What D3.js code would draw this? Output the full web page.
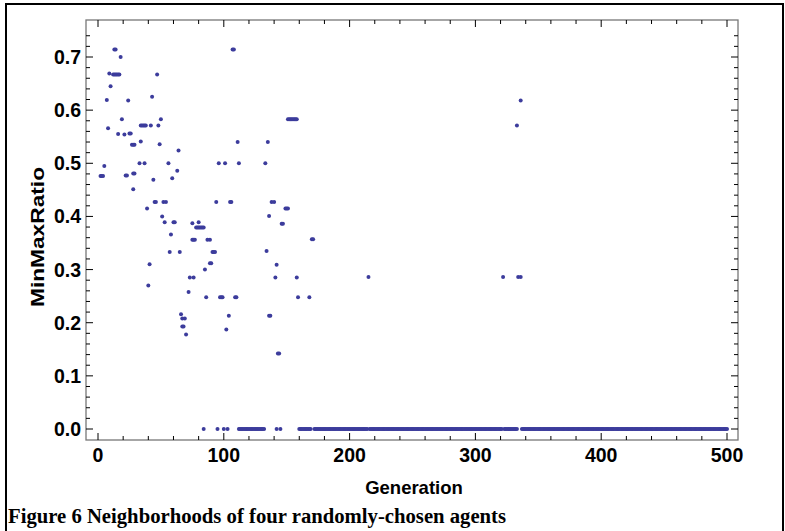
<!DOCTYPE html>
<html>
<head>
<meta charset="utf-8">
<script src="https://cdn.jsdelivr.net/npm/d3@7"></script>
<style>
  html, body { margin: 0; padding: 0; background: #fff; }
  svg { display: block; }
  .tick-label { font-family: "Liberation Sans", Arial, sans-serif; font-weight: bold; font-size: 19.5px; fill: #000; }
  .axis-title { font-family: "Liberation Sans", Arial, sans-serif; font-weight: bold; font-size: 18.5px; fill: #000; }
  .caption { font-family: "Liberation Serif", "Times New Roman", serif; font-weight: bold; font-size: 20.7px; fill: #000; }
</style>
</head>
<body>
<svg id="chart" width="785" height="531"></svg>
<script>
// ---- Data ----
// Non-zero MinMaxRatio observations: generation and value
const generations = [
  2, 3, 4, 5, 7, 8, 9, 10, 12, 13, 14, 15, 16, 17, 13, 14, 16, 18, 19, 21,
  22, 23, 24, 25, 26, 27, 28, 29, 28, 29, 28, 33, 37, 34, 35, 36, 37, 38, 34, 39,
  40, 41, 42, 43, 44, 45, 46, 47, 48, 49, 50, 51, 52, 54, 53, 56, 57, 58, 59, 60,
  61, 63, 64, 65, 66, 67, 69, 67, 68, 70, 72, 73, 76, 75, 75, 76, 77, 78, 79, 80,
  81, 82, 83, 84, 80, 85, 86, 87, 89, 89, 90, 91, 92, 93, 94, 96, 97, 98, 99, 101,
  102, 104, 105, 106, 107, 108, 109, 110, 111, 112, 133, 134, 135, 136, 136, 137, 138, 140, 141, 142,
  143, 144, 146, 147, 149, 150, 151, 151, 152, 153, 154, 155, 156, 157, 158, 158, 159, 168, 170, 171,
  215, 322, 333, 334, 336, 336
];
const ratios = [
  0.476, 0.476, 0.476, 0.495, 0.619, 0.566, 0.669, 0.645, 0.667, 0.667, 0.667, 0.667, 0.667, 0.667, 0.714, 0.714, 0.555, 0.700, 0.583, 0.554,
  0.477, 0.477, 0.618, 0.556, 0.556, 0.535, 0.535, 0.535, 0.481, 0.481, 0.451, 0.500, 0.500, 0.571, 0.571, 0.571, 0.571, 0.571, 0.541, 0.415,
  0.270, 0.310, 0.571, 0.625, 0.469, 0.427, 0.427, 0.667, 0.571, 0.536, 0.583, 0.400, 0.427, 0.427, 0.389, 0.500, 0.333, 0.366, 0.472, 0.389,
  0.389, 0.486, 0.524, 0.333, 0.216, 0.208, 0.208, 0.193, 0.193, 0.178, 0.258, 0.285, 0.285, 0.387, 0.356, 0.356, 0.356, 0.379, 0.379, 0.379,
  0.379, 0.379, 0.379, 0.379, 0.389, 0.300, 0.248, 0.356, 0.356, 0.312, 0.312, 0.333, 0.333, 0.333, 0.427, 0.500, 0.248, 0.248, 0.248, 0.500,
  0.187, 0.213, 0.427, 0.427, 0.714, 0.714, 0.248, 0.248, 0.540, 0.500, 0.500, 0.335, 0.540, 0.401, 0.213, 0.213, 0.427, 0.427, 0.285, 0.309,
  0.142, 0.142, 0.386, 0.386, 0.415, 0.415, 0.415, 0.583, 0.583, 0.583, 0.583, 0.583, 0.583, 0.583, 0.583, 0.285, 0.248, 0.248, 0.357, 0.357,
  0.286, 0.286, 0.571, 0.286, 0.286, 0.618
];
// Generations whose ratio is exactly 0: isolated generations and inclusive runs [from, to]
const zeroSingles = [84, 95, 100, 103, 142, 145];
const zeroRuns = [[112, 132], [160, 169], [172, 214], [216, 321], [323, 333], [337, 500]];

const xTicks = [0, 100, 200, 300, 400, 500];
const yTicks = [0.0, 0.1, 0.2, 0.3, 0.4, 0.5, 0.6, 0.7];
const xTitle = "Generation";
const yTitle = "MinMaxRatio";
const captionText = "Figure 6 Neighborhoods of four randomly-chosen agents";

// ---- Build point list ----
const points = generations.map((g, i) => ({ g, v: ratios[i] }));
zeroSingles.forEach(g => points.push({ g, v: 0 }));
zeroRuns.forEach(([a, b]) => d3.range(a, b + 1).forEach(g => points.push({ g, v: 0 })));

// ---- Layout ----
const svg = d3.select("#chart");
const frame = { left: 86, right: 738, top: 20, bottom: 440 };

const x = d3.scaleLinear().domain([0, 500]).range([98, 727]);
const y = d3.scaleLinear().domain([0, 0.7]).range([429, 57]);

// outer border
svg.append("rect")
  .attr("x", 6).attr("y", 4).attr("width", 777).attr("height", 540)
  .attr("fill", "none").attr("stroke", "#000").attr("stroke-width", 2);

// frame
svg.append("rect")
  .attr("x", frame.left).attr("y", frame.top)
  .attr("width", frame.right - frame.left).attr("height", frame.bottom - frame.top)
  .attr("fill", "none").attr("stroke", "#777").attr("stroke-width", 1.3);

const tickColor = "#000";
// x ticks (major every 100, minor every 20), bottom and top, pointing inward
const xMinor = d3.range(0, 501, 20);
const xMajorSet = new Set(xTicks);
const xt = svg.append("g");
xMinor.forEach(t => {
  const len = xMajorSet.has(t) ? 7 : 4;
  xt.append("line").attr("x1", x(t)).attr("x2", x(t))
    .attr("y1", frame.bottom).attr("y2", frame.bottom - len)
    .attr("stroke", tickColor).attr("stroke-width", 1);
  xt.append("line").attr("x1", x(t)).attr("x2", x(t))
    .attr("y1", frame.top).attr("y2", frame.top + len)
    .attr("stroke", tickColor).attr("stroke-width", 1);
});
xTicks.forEach(t => {
  svg.append("text").attr("class", "tick-label")
    .attr("x", x(t)).attr("y", frame.bottom + 22)
    .attr("text-anchor", "middle").text(String(t));
});

// y ticks (major every 0.1, minor every 0.02), left and right
const yMinor = d3.range(0, 38).map(i => +(i * 0.02).toFixed(2)).filter(v => y(v) >= frame.top);
const yt = svg.append("g");
yMinor.forEach(t => {
  const isMajor = Math.abs(t * 10 - Math.round(t * 10)) < 1e-6;
  const len = isMajor ? 7 : 4;
  yt.append("line").attr("y1", y(t)).attr("y2", y(t))
    .attr("x1", frame.left).attr("x2", frame.left + len)
    .attr("stroke", tickColor).attr("stroke-width", 1);
  yt.append("line").attr("y1", y(t)).attr("y2", y(t))
    .attr("x1", frame.right).attr("x2", frame.right - len)
    .attr("stroke", tickColor).attr("stroke-width", 1);
});
yTicks.forEach(t => {
  svg.append("text").attr("class", "tick-label")
    .attr("x", frame.left - 5).attr("y", y(t) + 7)
    .attr("text-anchor", "end").text(t.toFixed(1));
});

// points
svg.append("g").selectAll("circle").data(points).join("circle")
  .attr("cx", d => x(d.g)).attr("cy", d => y(d.v))
  .attr("r", 2).attr("fill", "#3c3c9c");

// titles
svg.append("text").attr("class", "axis-title")
  .attr("x", 414).attr("y", 494)
  .attr("text-anchor", "middle").text(xTitle);
svg.append("text").attr("class", "axis-title")
  .attr("transform", `translate(44,${(frame.top + frame.bottom) / 2 + 7}) rotate(-90)`)
  .attr("text-anchor", "middle")
  .attr("textLength", 140).attr("lengthAdjust", "spacingAndGlyphs")
  .text(yTitle);

// caption
svg.append("text").attr("class", "caption")
  .attr("x", 8).attr("y", 523).text(captionText);
</script>
</body>
</html>
